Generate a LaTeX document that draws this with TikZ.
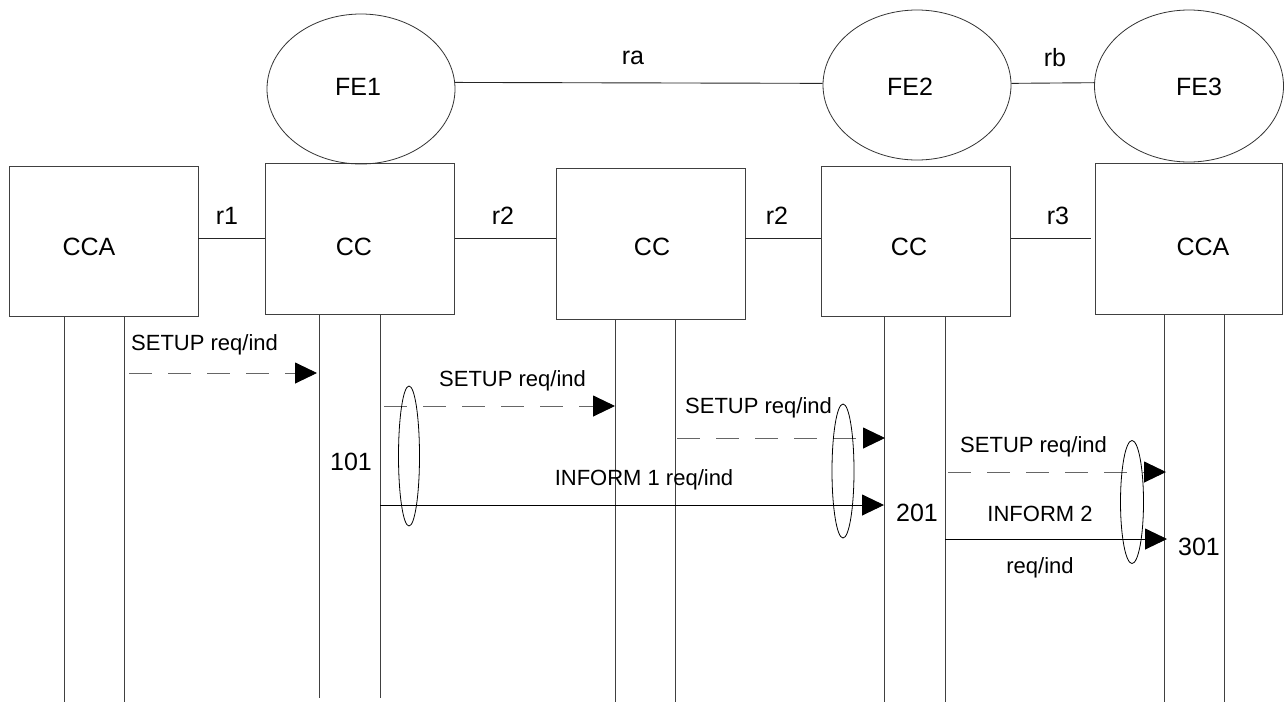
\documentclass[tikz,border=0pt]{standalone}
\usepackage{fontspec}
\setmainfont{Liberation Sans}
\usetikzlibrary{arrows.meta,shapes.geometric}
\begin{document}
\begin{tikzpicture}[x=1pt,y=-1pt,
 box/.style={draw=black!75,line width=0.9pt,minimum width=189pt,minimum height=150pt,inner sep=0pt},
 fe/.style={ellipse,draw=black!80,line width=0.8pt,minimum width=188pt,minimum height=150pt,inner sep=0pt},
 big/.style={font=\fontsize{25}{28}\selectfont,inner sep=0pt},
 lbl/.style={font=\fontsize{22}{26}\selectfont,inner sep=0pt},
 link/.style={draw=black!85,line width=0.9pt},
 life/.style={draw=black!75,line width=0.9pt},
 msg/.style={line width=0.9pt,-{Triangle[length=22pt,width=21pt,color=black]}},
 dmsg/.style={msg,draw=black!60,dash pattern=on 23pt off 16pt},
 grp/.style={ellipse,draw=black,line width=0.8pt,inner sep=0pt}]
\useasboundingbox (0,0) rectangle (1285,702);
% boxes
\node[box] (cca1) at (103.5,241.5) {};
\node[box,minimum height=151pt] (cc1) at (360,238.5) {};
\node[box,minimum height=151pt] (cc2) at (650.5,243.5) {};
\node[box] (cc3) at (916,241.5) {};
\node[box,minimum width=187pt,minimum height=151pt] (cca2) at (1188.5,238.5) {};
\node[big] (tcca1) at (89,247) {CCA};
\node[big] (tcc1) at (354,247) {CC};
\node[big] (tcc2) at (652,247) {CC};
\node[big] (tcc3) at (909,247) {CC};
\node[big] (tcca2) at (1203,247) {CCA};
% functional entities
\node[fe] (fe1) at (361,89) {};
\node[fe] (fe2) at (917,85) {};
\node[fe,minimum width=189pt,minimum height=152pt] (fe3) at (1189,86) {};
\node[big] (tfe1) at (358,87) {FE1};
\node[big] (tfe2) at (910,87) {FE2};
\node[big] (tfe3) at (1199,87) {FE3};
% relationships
\draw[link] (fe1.4) -- (fe2.179);
\draw[link] (fe2.1) -- (fe3.178);
\node[big] (lra) at (633,58) {ra};
\node[big] (lrb) at (1055,58) {rb};
\draw[link] (cca1.east |- cc1.west) -- (cc1.west);
\draw[link] (cc1.east) -- (cc1.east -| cc2.west);
\draw[link] (cc2.east |- cc1.east) -- (cc3.west |- cc1.east);
\draw[link,shorten >=4pt] (cc3.east |- cca2.west) -- (cca2.west);
\node[big] (lr1) at (227,216) {r1};
\node[big] (lr2a) at (503,216) {r2};
\node[big] (lr2b) at (777,216) {r2};
\node[big] (lr3) at (1058,216) {r3};
% lifelines
\coordinate (a1) at (64,316);   \coordinate (b1) at (64,702);
\coordinate (a2) at (124,316);  \coordinate (b2) at (124,702);
\coordinate (a3) at (319,314);  \coordinate (b3) at (319,698);
\coordinate (a4) at (380,314);  \coordinate (b4) at (380,698);
\coordinate (a5) at (615,319);  \coordinate (b5) at (615,702);
\coordinate (a6) at (675,319);  \coordinate (b6) at (675,702);
\coordinate (a7) at (884,316);  \coordinate (b7) at (884,702);
\coordinate (a8) at (945,316);  \coordinate (b8) at (945,702);
\coordinate (a9) at (1164,314); \coordinate (b9) at (1164,702);
\coordinate (a10) at (1224,314);\coordinate (b10) at (1224,702);
\foreach \i in {1,...,10}{\draw[life] (a\i) -- (b\i);}
% messages
\coordinate (m1s) at (129,373); \coordinate (m1e) at (317,373);
\coordinate (m2s) at (384,406); \coordinate (m2e) at (615,406);
\coordinate (m3s) at (677,438); \coordinate (m3e) at (885,438);
\coordinate (m4s) at (948,472); \coordinate (m4e) at (1166,472);
\coordinate (m5s) at (380,505); \coordinate (m5e) at (884,505);
\coordinate (m6s) at (945,539); \coordinate (m6e) at (1167,539);
\draw[dmsg] (m1s) -- (m1e);
\draw[dmsg] (m2s) -- (m2e);
\draw[dmsg] (m3s) -- (m3e);
\draw[dmsg] (m4s) -- (m4e);
\draw[msg,draw=black] (m5s) -- (m5e);
\draw[msg,draw=black] (m6s) -- (m6e);
\node[lbl,anchor=west] (t1) at (131,345) {SETUP req/ind};
\node[lbl,anchor=west] (t2) at (439,381) {SETUP req/ind};
\node[lbl,anchor=west] (t3) at (685,408) {SETUP req/ind};
\node[lbl,anchor=west] (t4) at (960,447) {SETUP req/ind};
\node[lbl] (t5) at (644,480) {INFORM 1 req/ind};
\node[lbl] (t6) at (1040,514) {INFORM 2};
\node[lbl] (t7) at (1040,568) {req/ind};
\node[big] (n101) at (351,462) {101};
\node[big] (n201) at (917,513) {201};
\node[big] (n301) at (1199,547) {301};
% grouping ellipses
\node[grp,minimum width=21pt,minimum height=140pt] (g1) at (409,456) {};
\node[grp,minimum width=22pt,minimum height=134pt] (g2) at (843,471) {};
\node[grp,minimum width=23pt,minimum height=123pt] (g3) at (1132,502) {};
\end{tikzpicture}
\end{document}
